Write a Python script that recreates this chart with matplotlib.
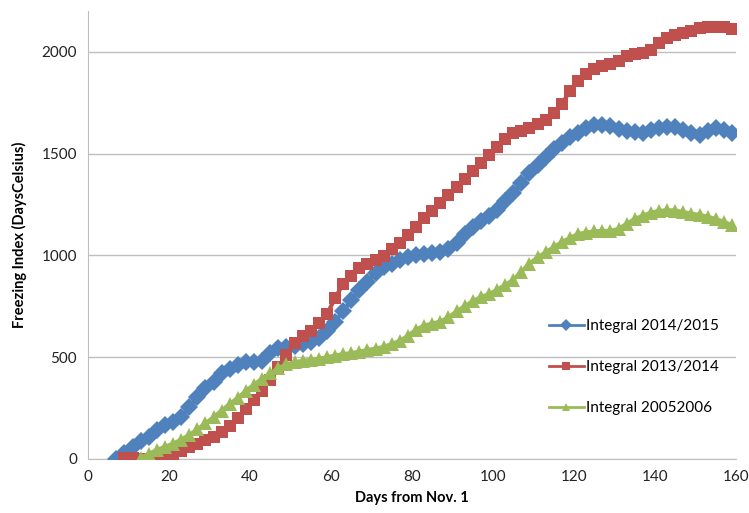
import matplotlib
matplotlib.use('Agg')
import matplotlib.pyplot as plt
from matplotlib.lines import Line2D

plt.rcParams['font.family'] = ['Lato', 'DejaVu Sans']

# Freezing index, read every 2 days from the reference.
blueStart = 7
blueVals = [0, 30, 60, 90, 110, 140, 165, 180, 205, 255, 305, 350, 380, 420, 440,
            460, 475, 478, 480, 520, 545, 550, 555, 565, 575, 595, 630, 675, 725,
            780, 830, 870, 915, 945, 960, 975, 990, 1000, 1005, 1012, 1015, 1030,
            1060, 1105, 1140, 1170, 1195, 1225, 1265, 1305, 1355, 1405, 1445, 1485,
            1520, 1553, 1580, 1600, 1625, 1640, 1642, 1635, 1620, 1610, 1605, 1602,
            1615, 1625, 1628, 1630, 1615, 1600, 1592, 1610, 1625, 1615, 1600]

redStart = 9
redVals = [5, 5, 0, -5, 5, 15, 25, 40, 60, 75, 93, 110, 133, 160, 200, 245, 290,
           335, 388, 450, 510, 570, 605, 630, 670, 710, 790, 860, 900, 940, 960,
           975, 995, 1030, 1060, 1100, 1140, 1185, 1220, 1255, 1295, 1335, 1375,
           1415, 1455, 1495, 1533, 1570, 1600, 1612, 1626, 1645, 1666, 1700, 1745,
           1805, 1855, 1890, 1915, 1930, 1940, 1955, 1980, 1990, 1995, 2010, 2045,
           2065, 2082, 2092, 2100, 2115, 2122, 2123, 2120, 2110]

greenStart = 13
greenVals = [5, 25, 44, 60, 75, 95, 118, 145, 175, 205, 238, 270, 300, 335, 365,
             395, 420, 445, 465, 475, 482, 487, 492, 500, 508, 515, 520, 527, 535,
             542, 550, 565, 580, 605, 635, 655, 665, 675, 695, 725, 750, 775, 795,
             810, 830, 855, 880, 920, 960, 990, 1015, 1040, 1065, 1085, 1105, 1112,
             1118, 1120, 1120, 1130, 1155, 1178, 1195, 1210, 1218, 1222, 1220, 1212,
             1205, 1198, 1190, 1178, 1165, 1148]

labels = ['Integral 2014/2015', 'Integral 2013/2014', 'Integral 20052006']
colors = ['#4F81BD', '#C0504D', '#9BBB59']
markers = ['D', 's', '^']
sizes = [9, 8.5, 10]

fig = plt.figure(figsize=(7.49, 5.13), dpi=100)
ax = fig.add_axes([88 / 749, 54 / 513, 648 / 749, 448 / 513])

series = [(blueStart, blueVals), (redStart, redVals), (greenStart, greenVals)]
handles = []
for (start, vals), lab, c, m, s in zip(series, labels, colors, markers, sizes):
  days = [start + 2 * i for i in range(len(vals))]
  ax.plot(days, vals, color=c, marker=m, markersize=s, linewidth=3,
          markeredgewidth=0, zorder=3)
  handles.append(Line2D([], [], color=c, marker=m, markersize=6,
                        linewidth=2, markeredgewidth=0))

# Axes setup.
ax.set_xlim(0, 160)
ax.set_ylim(0, 2200)
ax.set_xticks(range(0, 161, 20))
ax.set_yticks(range(0, 2001, 500))
ax.yaxis.grid(True, color='#BFBFBF', linewidth=1)
ax.set_axisbelow(True)
ax.tick_params(length=0, labelsize=11, pad=8, colors='#222222')
for side in ['top', 'right']:
  ax.spines[side].set_visible(False)
for side in ['left', 'bottom']:
  ax.spines[side].set_color('#BFBFBF')
ax.set_xlabel('Days from Nov. 1', fontsize=10.5, fontweight='bold', labelpad=5)
ax.set_ylabel('Freezing Index (DaysCelsius)', fontsize=10.5, fontweight='bold',
              labelpad=10)

ax.legend(handles, labels, loc='center left', bbox_to_anchor=(0.69, 0.205),
          frameon=False, fontsize=11, handlelength=2.3, handletextpad=0.1,
          labelspacing=1.75)

fig.savefig('out.png', dpi=100)
